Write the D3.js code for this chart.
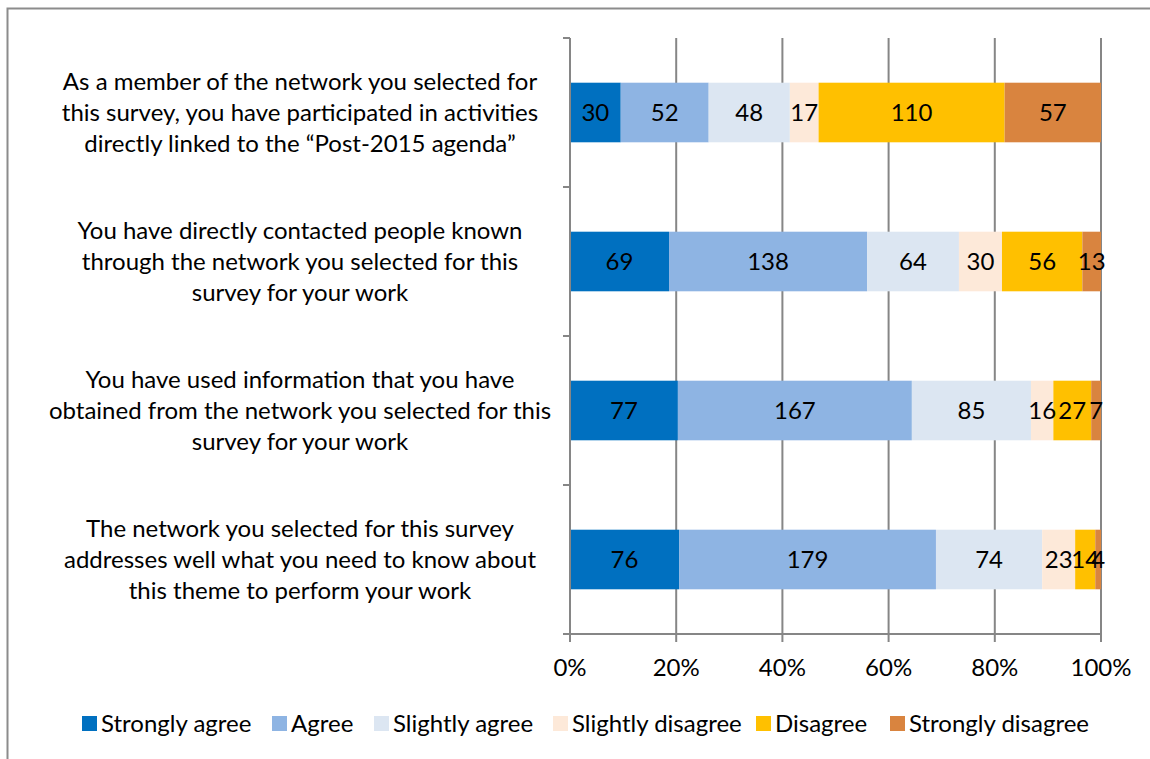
<!DOCTYPE html>
<html lang="en">
<head>
<meta charset="utf-8">
<title>Network survey</title>
<script src="https://d3js.org/d3.v7.min.js"></script>
<style>
  body { margin: 0; background: #fff; }
  text { font-family: Lato, "Open Sans", sans-serif; }
</style>
</head>
<body>
<script>
// questions, top to bottom (each is a list of lines)
var questions = [
  ["As a member of the network you selected for", "this survey, you have participated in activities", "directly linked to the \u201cPost-2015 agenda\u201d"],
  ["You have directly contacted people known", "through the network you selected for this", "survey for your work"],
  ["You have used information that you have", "obtained from the network you selected for this", "survey for your work"],
  ["The network you selected for this survey", "addresses well what you need to know about", "this theme to perform your work"]
];
var answers = ["Strongly agree", "Agree", "Slightly agree", "Slightly disagree", "Disagree", "Strongly disagree"];
var colors = ["#0070c0", "#8eb4e3", "#dce6f2", "#fde9d9", "#ffc000", "#d9843f"];
var counts = [
  [30, 52, 48, 17, 110, 57],
  [69, 138, 64, 30, 56, 13],
  [77, 167, 85, 16, 27, 7],
  [76, 179, 74, 23, 14, 4]
];
var ticks = [0, 0.2, 0.4, 0.6, 0.8, 1];

var width = 1150, height = 759;
var fs = 24;
var svg = d3.select("body").append("svg")
    .attr("width", width)
    .attr("height", height);

// outer frame (right / bottom edges fall outside the picture)
svg.append("path")
    .attr("d", "M7.5,759 V8.5 H1150")
    .attr("fill", "none")
    .attr("stroke", "#8c8c8c")
    .attr("stroke-width", 2);

var pLeft = 570, pRight = 1101, pTop = 38, pBottom = 634;
var x = d3.scaleLinear().domain([0, 1]).range([pLeft, pRight]);
var y = d3.scaleBand().domain(d3.range(questions.length)).range([pTop, pBottom]);
var bandPad = 0.6; // bar height is 40% of the band

// gridlines
svg.selectAll("line.grid").data(ticks.slice(1)).enter().append("line")
    .attr("class", "grid")
    .attr("x1", d => x(d)).attr("x2", d => x(d))
    .attr("y1", pTop).attr("y2", pBottom)
    .attr("stroke", "#868686").attr("stroke-width", 2);

// stacked rows
var rows = counts.map(function(c) {
  var total = d3.sum(c), acc = 0;
  return c.map(function(v, i) {
    var s = { i: i, v: v, x0: acc / total, x1: (acc + v) / total };
    acc += v;
    return s;
  });
});

var barH = y.bandwidth() * (1 - bandPad);
var g = svg.selectAll("g.row").data(rows).enter().append("g")
    .attr("class", "row")
    .attr("transform", (d, r) => "translate(0," + (y(r) + (y.bandwidth() - barH) / 2) + ")");

g.selectAll("rect").data(d => d).enter().append("rect")
    .attr("x", d => x(d.x0))
    .attr("width", d => x(d.x1) - x(d.x0))
    .attr("height", barH)
    .attr("fill", d => colors[d.i]);

g.selectAll("text").data(d => d).enter().append("text")
    .attr("x", d => (x(d.x0) + x(d.x1)) / 2)
    .attr("y", barH / 2)
    .attr("dy", "0.35em")
    .attr("text-anchor", "middle")
    .attr("font-size", fs)
    .attr("fill", "#000")
    .text(d => d.v);

// category axis
svg.append("line")
    .attr("x1", pLeft).attr("x2", pLeft).attr("y1", pTop).attr("y2", pBottom)
    .attr("stroke", "#868686").attr("stroke-width", 2);
svg.selectAll("line.ytick").data(d3.range(questions.length + 1)).enter().append("line")
    .attr("class", "ytick")
    .attr("x1", pLeft - 7).attr("x2", pLeft)
    .attr("y1", d => pTop + d * y.step()).attr("y2", d => pTop + d * y.step())
    .attr("stroke", "#868686").attr("stroke-width", 2);

// value axis
svg.append("line")
    .attr("x1", pLeft - 7).attr("x2", pRight).attr("y1", pBottom).attr("y2", pBottom)
    .attr("stroke", "#868686").attr("stroke-width", 2);
svg.selectAll("line.xtick").data(ticks).enter().append("line")
    .attr("class", "xtick")
    .attr("x1", d => x(d)).attr("x2", d => x(d))
    .attr("y1", pBottom).attr("y2", pBottom + 8)
    .attr("stroke", "#868686").attr("stroke-width", 2);
svg.selectAll("text.xlab").data(ticks).enter().append("text")
    .attr("class", "xlab")
    .attr("x", d => x(d)).attr("y", pBottom + 42)
    .attr("text-anchor", "middle")
    .attr("font-size", fs)
    .text(d3.format(".0%"));

// question labels
var lh = 31;
svg.selectAll("text.q").data(questions).enter().append("text")
    .attr("class", "q")
    .attr("text-anchor", "middle")
    .attr("font-size", fs)
    .attr("fill", "#000")
    .each(function(lines, r) {
      var cy = y(r) + y.bandwidth() / 2;
      d3.select(this).selectAll("tspan").data(lines).enter().append("tspan")
          .attr("x", 300)
          .attr("y", (d, k) => cy + (k - (lines.length - 1) / 2) * lh)
          .attr("dy", "0.35em")
          .text(d => d);
    });

// legend
var legX = [82, 272, 374, 553, 756, 890];
var leg = svg.selectAll("g.leg").data(answers).enter().append("g")
    .attr("class", "leg")
    .attr("transform", (d, i) => "translate(" + legX[i] + ",724)");
leg.append("rect").attr("x", 0).attr("y", -8).attr("width", 15).attr("height", 15)
    .attr("fill", (d, i) => colors[i]);
leg.append("text").attr("x", 19).attr("dy", "0.35em")
    .attr("font-size", fs).text(d => d);
</script>
</body>
</html>
